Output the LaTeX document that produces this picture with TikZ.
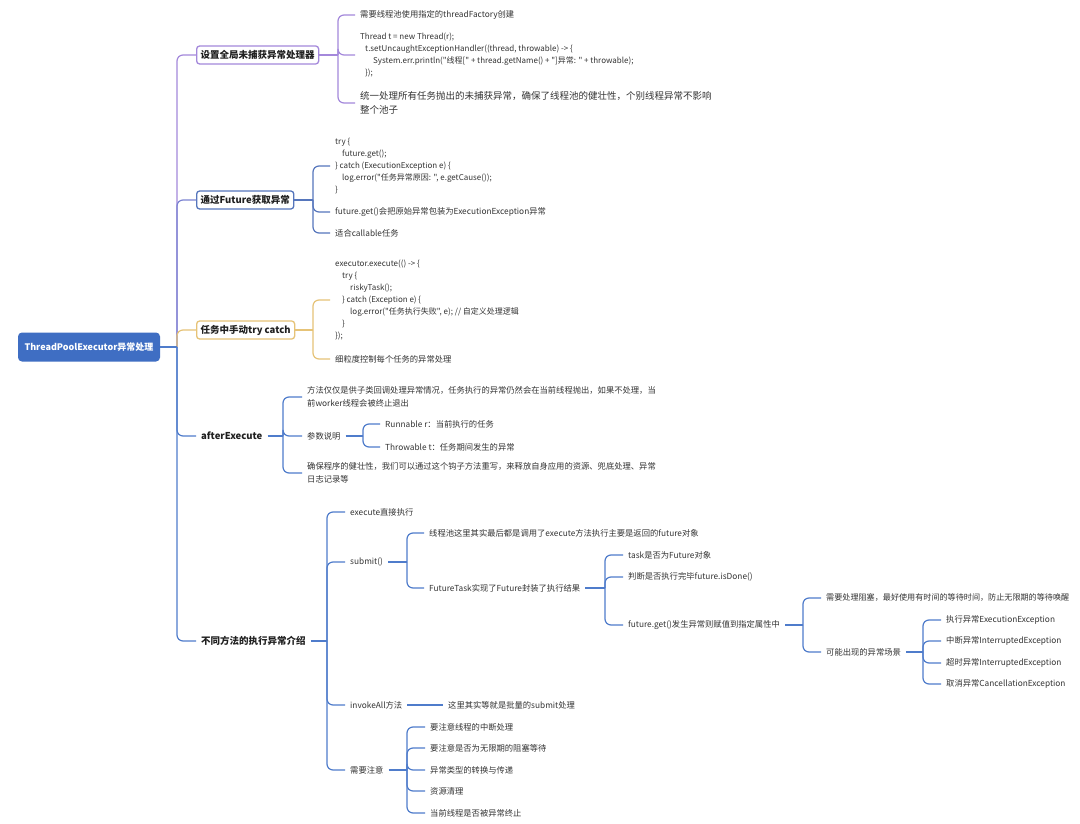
\documentclass[tikz,border=0pt]{standalone}
\usepackage{fontspec}
\setmainfont{Noto Sans CJK SC}[Ligatures=TeXOff]
\definecolor{rootc}{HTML}{3F6EC3}
\definecolor{pur}{HTML}{A488DB}
\definecolor{blp}{HTML}{7C84D2}
\definecolor{bl2}{HTML}{5676BC}
\definecolor{gold}{HTML}{E6C377}
\definecolor{blu}{HTML}{4F7CCB}
\definecolor{txtc}{HTML}{333333}
\definecolor{ttlc}{HTML}{1F1F1F}
\tikzset{
 txt/.style={anchor=west, inner xsep=5pt, inner ysep=1pt, font=\fontsize{8.3}{13.5}\selectfont, text=txtc, align=left},
 bigtxt/.style={txt, font=\fontsize{9.5}{14}\selectfont},
 code/.style={txt, font=\fontsize{8}{12}\selectfont},
 ttl/.style={anchor=west, inner xsep=5pt, font=\bfseries\fontsize{9.5}{12}\selectfont, text=ttlc},
 box/.style={ttl, draw, line width=1.3pt, rounded corners=3pt, fill=white, inner xsep=4pt, minimum height=18pt},
 rootbox/.style={fill=rootc, text=white, rounded corners=4pt, minimum width=142pt, minimum height=29pt, font=\bfseries\fontsize{9}{11}\selectfont},
 conn/.style={line width=1.2pt, rounded corners=6pt},
}
\begin{document}
\begin{tikzpicture}[x=1pt,y=-1pt]
\useasboundingbox[fill=white] (0,0) rectangle (1080,824);
% root and branches
\node[rootbox] (root) at (89,347) {ThreadPoolExecutor异常处理};
\node[box, draw=pur] (b1) at (196,55) {设置全局未捕获异常处理器};
\node[box, draw=bl2] (b2) at (196,200) {通过Future获取异常};
\node[box, draw=gold] (b3) at (196,330) {任务中手动try catch};
\node[ttl] (b4) at (196,436) {afterExecute};
\node[ttl] (b5) at (196,641) {不同方法的执行异常介绍};
% branch 1
\node[txt] (c11) at (355,15) {需要线程池使用指定的threadFactory创建};
\node[code] (c12) at (355,55) {Thread t = new Thread(r);\\\hspace*{5pt}t.setUncaughtExceptionHandler((thread, throwable) -> \{\\\hspace*{13pt}System.err.println("线程[" + thread.getName() + "]异常: " + throwable);\\\hspace*{5pt}\});};
\node[bigtxt] (c13) at (355,103) {统一处理所有任务抛出的未捕获异常，确保了线程池的健壮性，个别线程异常不影响\\整个池子};
% branch 2
\node[code] (c21) at (330,166) {try \{\\\hspace*{7pt}future.get();\\\} catch (ExecutionException e) \{\\\hspace*{7pt}log.error("任务异常原因: ", e.getCause());\\\}};
\node[txt] (c22) at (330,212) {future.get()会把原始异常包装为ExecutionException异常};
\node[txt] (c23) at (330,233) {适合callable任务};
% branch 3
\node[code] (c31) at (330,300) {executor.execute(() -> \{\\\hspace*{7pt}try \{\\\hspace*{15pt}riskyTask();\\\hspace*{7pt}\} catch (Exception e) \{\\\hspace*{15pt}log.error("任务执行失败", e); // 自定义处理逻辑\\\hspace*{7pt}\}\\\});};
\node[txt] (c32) at (330,359) {细粒度控制每个任务的异常处理};
% branch 4
\node[txt] (c41) at (302,397) {方法仅仅是供子类回调处理异常情况，任务执行的异常仍然会在当前线程抛出，如果不处理，当\\前worker线程会被终止退出};
\node[txt] (c42) at (302,436) {参数说明};
\node[txt] (c43) at (302,473) {确保程序的健壮性，我们可以通过这个钩子方法重写，来释放自身应用的资源、兜底处理、异常\\日志记录等};
\node[txt] (c421) at (380,424) {Runnable r：当前执行的任务};
\node[txt] (c422) at (380,447) {Throwable t：任务期间发生的异常};
% branch 5
\node[txt] (c51) at (345,512) {execute直接执行};
\node[txt] (c52) at (345,562) {submit()};
\node[txt] (c53) at (345,705) {invokeAll方法};
\node[txt] (c54) at (345,770) {需要注意};
\node[txt] (c521) at (424,533) {线程池这里其实最后都是调用了execute方法执行主要是返回的future对象};
\node[txt] (c522) at (424,588) {FutureTask实现了Future封装了执行结果};
\node[txt] (d1) at (623,555) {task是否为Future对象};
\node[txt] (d2) at (623,577) {判断是否执行完毕future.isDone()};
\node[txt] (d3) at (623,625) {future.get()发生异常则赋值到指定属性中};
\node[txt, font=\fontsize{8.1}{12}\selectfont] (e1) at (821,598) {需要处理阻塞，最好使用有时间的等待时间，防止无限期的等待唤醒};
\node[txt] (e2) at (821,652) {可能出现的异常场景};
\node[txt] (f1) at (941,620) {执行异常ExecutionException};
\node[txt] (f2) at (941,641) {中断异常InterruptedException};
\node[txt] (f3) at (941,663) {超时异常InterruptedException};
\node[txt] (f4) at (941,684) {取消异常CancellationException};
\node[txt] (c531) at (443,705) {这里其实等就是批量的submit处理};
\node[txt] (g1) at (425,727) {要注意线程的中断处理};
\node[txt] (g2) at (425,748) {要注意是否为无限期的阻塞等待};
\node[txt] (g3) at (425,770) {异常类型的转换与传递};
\node[txt] (g4) at (425,791) {资源清理};
\node[txt] (g5) at (425,813) {当前线程是否被异常终止};
% junctions
\coordinate (t) at (177,347);
\coordinate (j1) at (338,55);
\coordinate (j2) at (313,200);
\coordinate (j3) at (313,330);
\coordinate (j4) at (283,436);
\coordinate (j42) at (363,436);
\coordinate (j5) at (327,641);
\coordinate (j52) at (407,562);
\coordinate (j522) at (605,588);
\coordinate (jd3) at (803,625);
\coordinate (je2) at (923,652);
\coordinate (j54) at (407,770);
% trunk
\draw[conn, pur] (t) |- (b1.west);
\draw[conn, blp] (t) |- (b2.west);
\draw[conn, gold] (t) |- (b3.west);
\draw[conn, blu] (t) |- (b4.west);
\draw[conn, blu] (t) |- (b5.west);
\draw[conn, blu] (root.east) -- (t);
% branch 1
\draw[conn, pur] (b1.east) -- (j1);
\foreach \c in {c11,c12,c13} \draw[conn, pur] (j1) |- (\c.west);
% branch 2
\draw[conn, bl2] (b2.east) -- (j2);
\foreach \c in {c21,c22,c23} \draw[conn, bl2] (j2) |- (\c.west);
% branch 3
\draw[conn, gold] (b3.east) -- (j3);
\foreach \c in {c31,c32} \draw[conn, gold] (j3) |- (\c.west);
% branch 4
\draw[conn, blu] (b4.east) -- (j4);
\foreach \c in {c41,c42,c43} \draw[conn, blu] (j4) |- (\c.west);
\draw[conn, blu] (c42.east) -- (j42);
\foreach \c in {c421,c422} \draw[conn, blu] (j42) |- (\c.west);
% branch 5
\draw[conn, blu] (b5.east) -- (j5);
\foreach \c in {c51,c52,c53,c54} \draw[conn, blu] (j5) |- (\c.west);
\draw[conn, blu] (c52.east) -- (j52);
\foreach \c in {c521,c522} \draw[conn, blu] (j52) |- (\c.west);
\draw[conn, blu] (c522.east) -- (j522);
\foreach \c in {d1,d2,d3} \draw[conn, blu] (j522) |- (\c.west);
\draw[conn, blu] (d3.east) -- (jd3);
\foreach \c in {e1,e2} \draw[conn, blu] (jd3) |- (\c.west);
\draw[conn, blu] (e2.east) -- (je2);
\foreach \c in {f1,f2,f3,f4} \draw[conn, blu] (je2) |- (\c.west);
\draw[conn, blu] (c53.east) -- (c531.west);
\draw[conn, blu] (c54.east) -- (j54);
\foreach \c in {g1,g2,g3,g4,g5} \draw[conn, blu] (j54) |- (\c.west);
\end{tikzpicture}
\end{document}
